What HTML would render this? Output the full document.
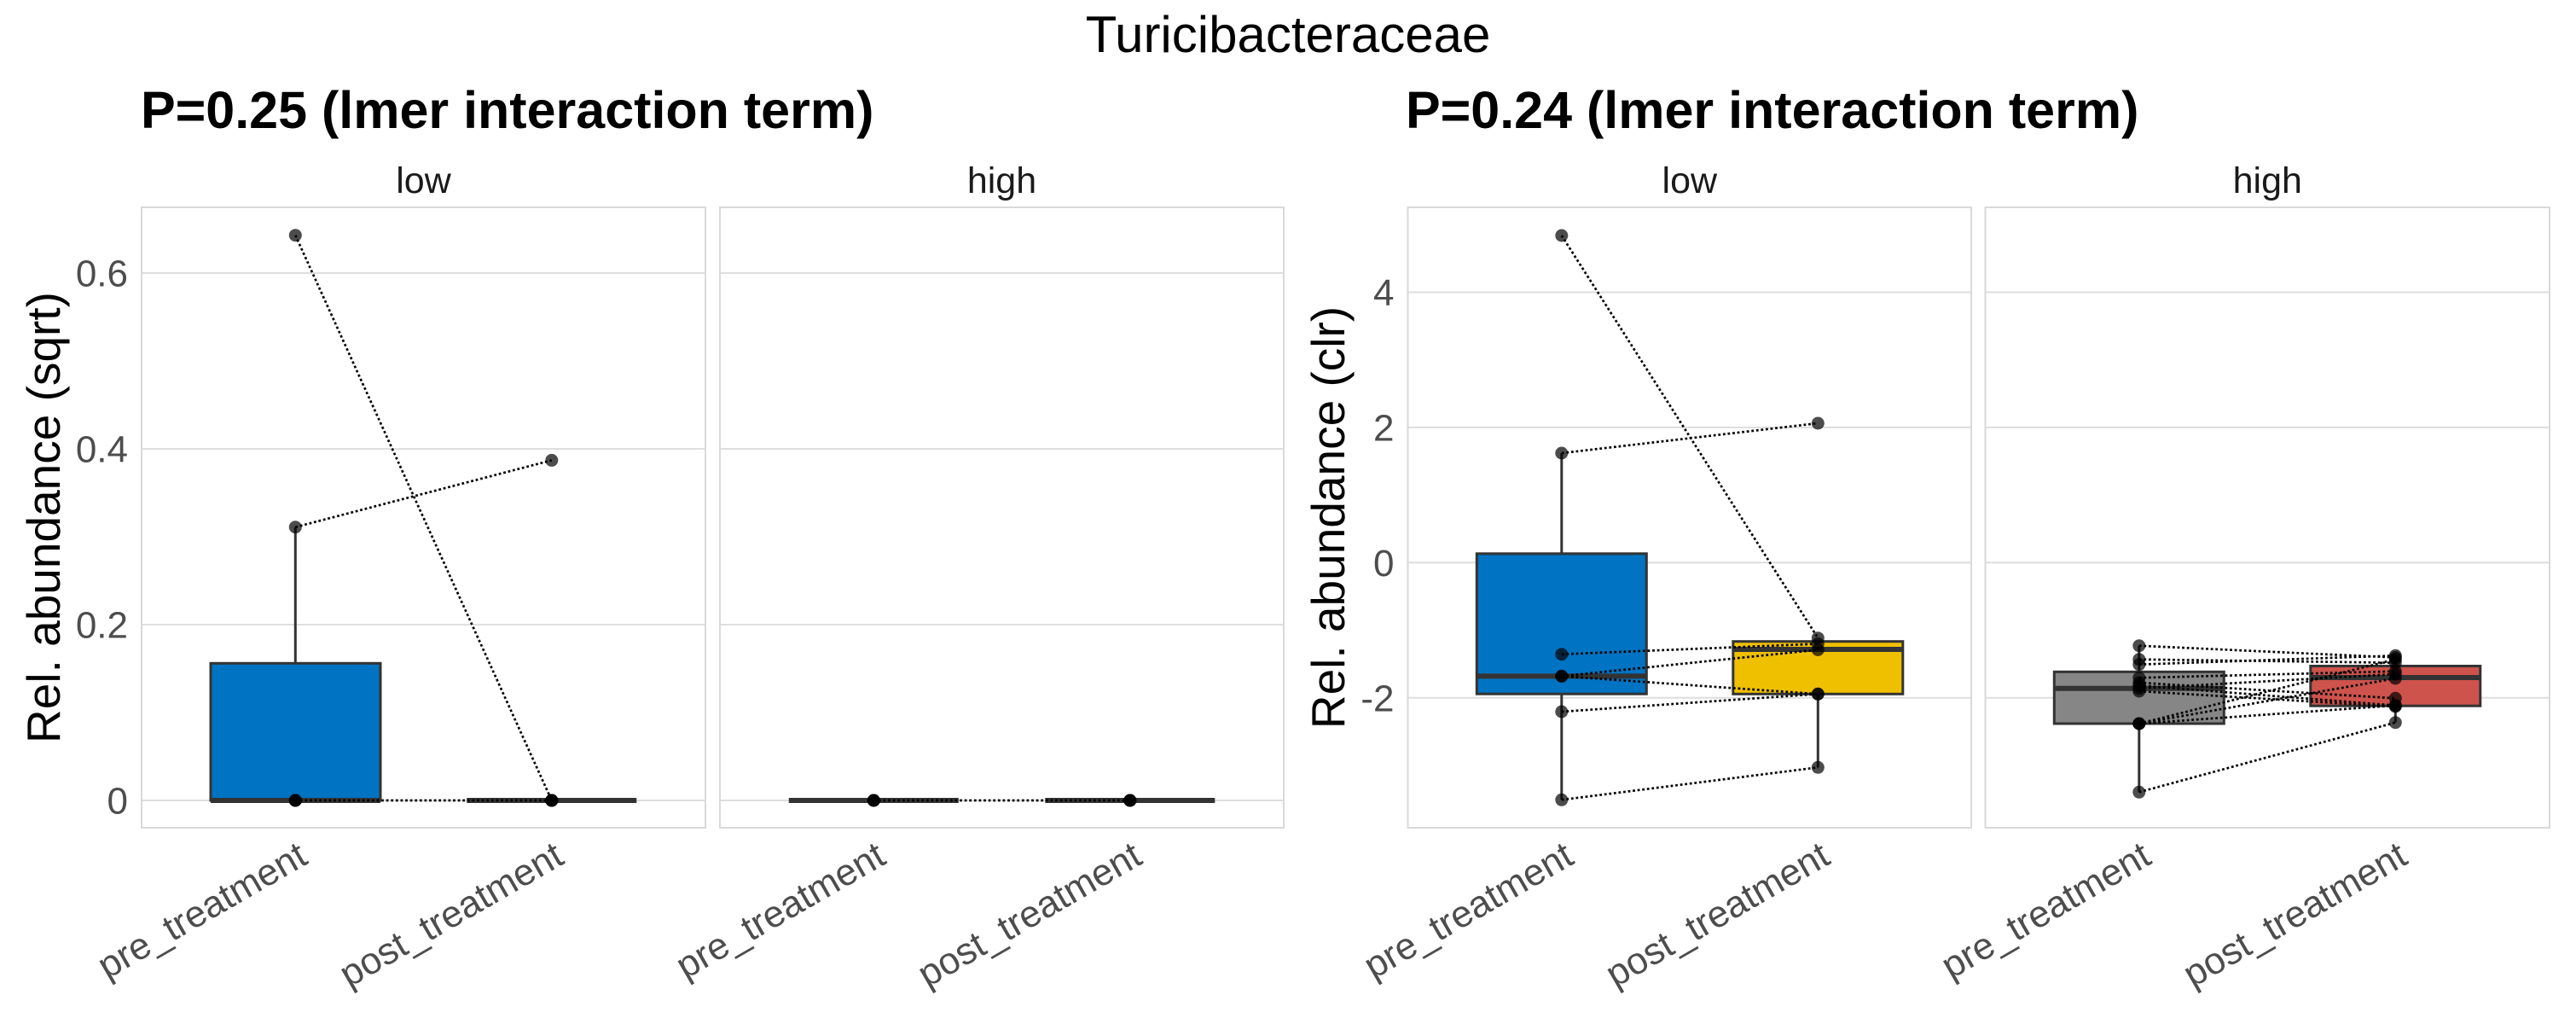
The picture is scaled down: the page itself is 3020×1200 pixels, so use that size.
<!DOCTYPE html>
<html>
<head>
<meta charset="utf-8">
<style>
  html,body{margin:0;padding:0;background:#fff;}
  svg{display:block;}
  text{font-family:"Liberation Sans",Arial,sans-serif;}
</style>
</head>
<body>
<svg width="3020" height="1200" viewBox="0 0 3020 1200" xmlns="http://www.w3.org/2000/svg">
  <rect x="0" y="0" width="3020" height="1200" fill="#ffffff"/>

  <!-- Main title -->
  <text x="1510" y="61" font-size="60" text-anchor="middle" fill="#000">Turicibacteraceae</text>

  <!-- Sub titles -->
  <text x="165" y="150" font-size="61" font-weight="bold" fill="#000">P=0.25 (lmer interaction term)</text>
  <text x="1648" y="150" font-size="61" font-weight="bold" fill="#000">P=0.24 (lmer interaction term)</text>

  <!-- Strip labels -->
  <g font-size="43" fill="#1a1a1a" text-anchor="middle">
    <text x="496.5" y="226">low</text>
    <text x="1174.5" y="226">high</text>
    <text x="1980.8" y="226">low</text>
    <text x="2658.3" y="226">high</text>
  </g>

  <!-- Y axis titles -->
  <text transform="translate(70,606.5) rotate(-90)" font-size="55" text-anchor="middle" fill="#000">Rel. abundance (sqrt)</text>
  <text transform="translate(1576,606.5) rotate(-90)" font-size="55" text-anchor="middle" fill="#000">Rel. abundance (clr)</text>

  <!-- Gridlines -->
  <g stroke="#dedede" stroke-width="2">
    <line x1="166" y1="320" x2="827" y2="320"/>
    <line x1="166" y1="526" x2="827" y2="526"/>
    <line x1="166" y1="732" x2="827" y2="732"/>
    <line x1="166" y1="938" x2="827" y2="938"/>
    <line x1="844" y1="320" x2="1505" y2="320"/>
    <line x1="844" y1="526" x2="1505" y2="526"/>
    <line x1="844" y1="732" x2="1505" y2="732"/>
    <line x1="844" y1="938" x2="1505" y2="938"/>

    <line x1="1650.5" y1="342.5" x2="2311" y2="342.5"/>
    <line x1="1650.5" y1="500.9" x2="2311" y2="500.9"/>
    <line x1="1650.5" y1="659.3" x2="2311" y2="659.3"/>
    <line x1="1650.5" y1="817.7" x2="2311" y2="817.7"/>
    <line x1="2327.5" y1="342.5" x2="2989" y2="342.5"/>
    <line x1="2327.5" y1="500.9" x2="2989" y2="500.9"/>
    <line x1="2327.5" y1="659.3" x2="2989" y2="659.3"/>
    <line x1="2327.5" y1="817.7" x2="2989" y2="817.7"/>
  </g>

  <!-- Panel borders -->
  <g fill="none" stroke="#d9d9d9" stroke-width="2">
    <rect x="166" y="243" width="661" height="727"/>
    <rect x="844" y="243" width="661" height="727"/>
    <rect x="1650.5" y="243" width="660.5" height="727"/>
    <rect x="2327.5" y="243" width="661.5" height="727"/>
  </g>

  <!-- Y tick labels -->
  <g font-size="44" fill="#4d4d4d" text-anchor="end">
    <text x="150" y="335.7">0.6</text>
    <text x="150" y="541.7">0.4</text>
    <text x="150" y="747.7">0.2</text>
    <text x="150" y="953.7">0</text>
    <text x="1634.5" y="358.2">4</text>
    <text x="1634.5" y="516.6">2</text>
    <text x="1634.5" y="675">0</text>
    <text x="1634.5" y="833.4">-2</text>
  </g>

  <!-- X tick labels -->
  <g font-size="44" fill="#4d4d4d" text-anchor="end">
    <text transform="translate(362.8,1011) rotate(-30)">pre_treatment</text>
    <text transform="translate(663.3,1011) rotate(-30)">post_treatment</text>
    <text transform="translate(1040.8,1011) rotate(-30)">pre_treatment</text>
    <text transform="translate(1341.3,1011) rotate(-30)">post_treatment</text>
    <text transform="translate(1847.3,1011) rotate(-30)">pre_treatment</text>
    <text transform="translate(2147.8,1011) rotate(-30)">post_treatment</text>
    <text transform="translate(2524.3,1011) rotate(-30)">pre_treatment</text>
    <text transform="translate(2824.8,1011) rotate(-30)">post_treatment</text>
  </g>

  <!-- ================= Boxplots ================= -->
  <g stroke="#333333" stroke-width="3">
    <!-- Panel 1 (sqrt low) -->
    <line x1="346.3" y1="777.3" x2="346.3" y2="617.7"/>
    <rect x="247" y="777.3" width="199" height="160.7" fill="#0073C2"/>
    <line x1="247" y1="938" x2="446" y2="938" stroke-width="6"/>
    <line x1="547.3" y1="938" x2="746.3" y2="938" stroke-width="6"/>

    <!-- Panel 2 (sqrt high) -->
    <line x1="924.8" y1="938" x2="1123.8" y2="938" stroke-width="6"/>
    <line x1="1225.3" y1="938" x2="1424.3" y2="938" stroke-width="6"/>

    <!-- Panel 3 (clr low) -->
    <line x1="1830.8" y1="648.8" x2="1830.8" y2="531"/>
    <line x1="1830.8" y1="813.2" x2="1830.8" y2="937.3"/>
    <rect x="1731.3" y="648.8" width="199" height="164.4" fill="#0073C2"/>
    <line x1="1731.3" y1="792.4" x2="1930.3" y2="792.4" stroke-width="6"/>

    <line x1="2131.3" y1="813.3" x2="2131.3" y2="899.3"/>
    <rect x="2031.8" y="751.7" width="199" height="61.6" fill="#EFC000"/>
    <line x1="2031.8" y1="761" x2="2230.8" y2="761" stroke-width="6"/>

    <!-- Panel 4 (clr high) -->
    <line x1="2507.8" y1="787.3" x2="2507.8" y2="756.7"/>
    <line x1="2507.8" y1="848" x2="2507.8" y2="928.3"/>
    <rect x="2408.3" y="787.3" width="199" height="60.7" fill="#868686"/>
    <line x1="2408.3" y1="806.7" x2="2607.3" y2="806.7" stroke-width="6"/>

    <line x1="2808.3" y1="780.5" x2="2808.3" y2="768.6"/>
    <line x1="2808.3" y1="827.2" x2="2808.3" y2="846.7"/>
    <rect x="2708.8" y="780.5" width="199" height="46.7" fill="#CD534C"/>
    <line x1="2708.8" y1="794" x2="2907.8" y2="794" stroke-width="6"/>
  </g>

  <!-- ================= Points ================= -->
  <g fill="#000" fill-opacity="0.7">
    <!-- Panel 1 -->
    <circle cx="346.3" cy="275.7" r="7.5"/>
    <circle cx="346.3" cy="617.7" r="7.5"/>
    <circle cx="346.3" cy="938" r="7.5"/>
    <circle cx="346.3" cy="938" r="7.5"/>
    <circle cx="346.3" cy="938" r="7.5"/>
    <circle cx="346.3" cy="938" r="7.5"/>
    <circle cx="346.3" cy="938" r="7.5"/>
    <circle cx="646.8" cy="539.4" r="7.5"/>
    <circle cx="646.8" cy="938" r="7.5"/>
    <circle cx="646.8" cy="938" r="7.5"/>
    <circle cx="646.8" cy="938" r="7.5"/>
    <circle cx="646.8" cy="938" r="7.5"/>
    <circle cx="646.8" cy="938" r="7.5"/>
    <circle cx="646.8" cy="938" r="7.5"/>
    <!-- Panel 2 -->
    <circle cx="1024.3" cy="938" r="7.5"/>
    <circle cx="1024.3" cy="938" r="7.5"/>
    <circle cx="1024.3" cy="938" r="7.5"/>
    <circle cx="1024.3" cy="938" r="7.5"/>
    <circle cx="1324.8" cy="938" r="7.5"/>
    <circle cx="1324.8" cy="938" r="7.5"/>
    <circle cx="1324.8" cy="938" r="7.5"/>
    <circle cx="1324.8" cy="938" r="7.5"/>
    <!-- Panel 3 -->
    <circle cx="1830.8" cy="276" r="7.5"/>
    <circle cx="1830.8" cy="531" r="7.5"/>
    <circle cx="1830.8" cy="766.7" r="7.5"/>
    <circle cx="1830.8" cy="792.4" r="7.5"/>
    <circle cx="1830.8" cy="792.4" r="7.5"/>
    <circle cx="1830.8" cy="834" r="7.5"/>
    <circle cx="1830.8" cy="937.3" r="7.5"/>
    <circle cx="2131.3" cy="496" r="7.5"/>
    <circle cx="2131.3" cy="747.7" r="7.5"/>
    <circle cx="2131.3" cy="754.5" r="7.5"/>
    <circle cx="2131.3" cy="761.5" r="7.5"/>
    <circle cx="2131.3" cy="813.3" r="7.5"/>
    <circle cx="2131.3" cy="813.3" r="7.5"/>
    <circle cx="2131.3" cy="899.3" r="7.5"/>
    <!-- Panel 4 -->
    <circle cx="2507.8" cy="756.7" r="7.5"/>
    <circle cx="2507.8" cy="772.7" r="7.5"/>
    <circle cx="2507.8" cy="778.7" r="7.5"/>
    <circle cx="2507.8" cy="794.3" r="7.5"/>
    <circle cx="2507.8" cy="800" r="7.5"/>
    <circle cx="2507.8" cy="803.3" r="7.5"/>
    <circle cx="2507.8" cy="806.7" r="7.5"/>
    <circle cx="2507.8" cy="810" r="7.5"/>
    <circle cx="2507.8" cy="848" r="7.5"/>
    <circle cx="2507.8" cy="848" r="7.5"/>
    <circle cx="2507.8" cy="848" r="7.5"/>
    <circle cx="2507.8" cy="928.3" r="7.5"/>
    <circle cx="2808.3" cy="768.3" r="7.5"/>
    <circle cx="2808.3" cy="770.5" r="7.5"/>
    <circle cx="2808.3" cy="772.7" r="7.5"/>
    <circle cx="2808.3" cy="776.7" r="7.5"/>
    <circle cx="2808.3" cy="786.7" r="7.5"/>
    <circle cx="2808.3" cy="790" r="7.5"/>
    <circle cx="2808.3" cy="795" r="7.5"/>
    <circle cx="2808.3" cy="818.3" r="7.5"/>
    <circle cx="2808.3" cy="826.7" r="7.5"/>
    <circle cx="2808.3" cy="826.7" r="7.5"/>
    <circle cx="2808.3" cy="828" r="7.5"/>
    <circle cx="2808.3" cy="846.7" r="7.5"/>
  </g>

  <!-- ================= Paired lines ================= -->
  <g stroke="#000" stroke-width="2.7" stroke-dasharray="2.8 2.8" fill="none">
    <!-- Panel 1 -->
    <line x1="346.3" y1="275.7" x2="646.8" y2="938"/>
    <line x1="346.3" y1="617.7" x2="646.8" y2="539.4"/>
    <line x1="346.3" y1="938" x2="646.8" y2="938"/>
    <!-- Panel 2 -->
    <line x1="1024.3" y1="938" x2="1324.8" y2="938"/>
    <!-- Panel 3 -->
    <line x1="1830.8" y1="276" x2="2131.3" y2="747.7"/>
    <line x1="1830.8" y1="531" x2="2131.3" y2="496"/>
    <line x1="1830.8" y1="766.7" x2="2131.3" y2="754.5"/>
    <line x1="1830.8" y1="792.4" x2="2131.3" y2="761.5"/>
    <line x1="1830.8" y1="792.4" x2="2131.3" y2="813.3"/>
    <line x1="1830.8" y1="834" x2="2131.3" y2="813.3"/>
    <line x1="1830.8" y1="937.3" x2="2131.3" y2="899.3"/>
    <!-- Panel 4 -->
    <line x1="2507.8" y1="756.7" x2="2808.3" y2="770.5"/>
    <line x1="2507.8" y1="772.7" x2="2808.3" y2="776.7"/>
    <line x1="2507.8" y1="778.7" x2="2808.3" y2="768.3"/>
    <line x1="2507.8" y1="794.3" x2="2808.3" y2="786.7"/>
    <line x1="2507.8" y1="800" x2="2808.3" y2="818.3"/>
    <line x1="2507.8" y1="803.3" x2="2808.3" y2="826.7"/>
    <line x1="2507.8" y1="806.7" x2="2808.3" y2="790"/>
    <line x1="2507.8" y1="810" x2="2808.3" y2="828"/>
    <line x1="2507.8" y1="848" x2="2808.3" y2="795"/>
    <line x1="2507.8" y1="848" x2="2808.3" y2="826.7"/>
    <line x1="2507.8" y1="848" x2="2808.3" y2="772.7"/>
    <line x1="2507.8" y1="928.3" x2="2808.3" y2="846.7"/>
  </g>
</svg>
</body>
</html>
